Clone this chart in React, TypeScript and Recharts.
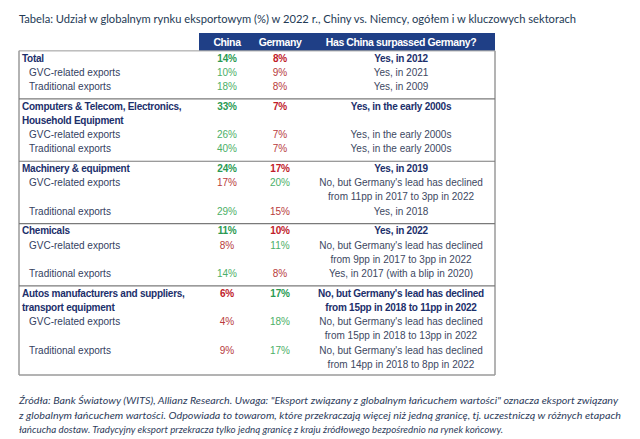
import { ScatterChart, Scatter, XAxis, YAxis, ReferenceLine, ReferenceArea } from 'recharts';

// table content, one entry per table row
const rowLabels: string[][] = [
  ['Total'],
  ['GVC-related exports'],
  ['Traditional exports'],
  ['Computers & Telecom, Electronics,', 'Household Equipment'],
  ['GVC-related exports'],
  ['Traditional exports'],
  ['Machinery & equipment'],
  ['GVC-related exports'],
  ['Traditional exports'],
  ['Chemicals'],
  ['GVC-related exports'],
  ['Traditional exports'],
  ['Autos manufacturers and suppliers,', 'transport equipment'],
  ['GVC-related exports'],
  ['Traditional exports'],
];
const rowGroup = [0, 0, 0, 1, 1, 1, 2, 2, 2, 3, 3, 3, 4, 4, 4];
const isHeading = [true, false, false, true, false, false, true, false, false, true, false, false, true, false, false];
const chinaShare = [14, 10, 18, 33, 26, 40, 24, 17, 29, 11, 8, 14, 6, 4, 9];
const germanyShare = [8, 9, 8, 7, 7, 7, 17, 20, 15, 10, 11, 8, 17, 18, 17];
const answers: string[][] = [
  ['Yes, in 2012'],
  ['Yes, in 2021'],
  ['Yes, in 2009'],
  ['Yes, in the early 2000s'],
  ['Yes, in the early 2000s'],
  ['Yes, in the early 2000s'],
  ['Yes, in 2019'],
  ["No, but Germany's lead has declined", 'from 11pp in 2017 to 3pp in 2022'],
  ['Yes, in 2018'],
  ['Yes, in 2022'],
  ["No, but Germany's lead has declined", 'from 9pp in 2017 to 3pp in 2022'],
  ['Yes, in 2017 (with a blip in 2020)'],
  ["No, but Germany's lead has declined", 'from 15pp in 2018 to 11pp in 2022'],
  ["No, but Germany's lead has declined", 'from 15pp in 2018 to 13pp in 2022'],
  ["No, but Germany's lead has declined", 'from 14pp in 2018 to 8pp in 2022'],
];
const headers = ['China', 'Germany', 'Has China surpassed Germany?'];

const title = 'Tabela: Udział w globalnym rynku eksportowym (%) w 2022 r., Chiny vs. Niemcy, ogółem i w kluczowych sektorach';
const footnote = [
  'Źródła: Bank Światowy (WITS), Allianz Research. Uwaga: "Eksport związany z globalnym łańcuchem wartości" oznacza eksport związany',
  'z globalnym łańcuchem wartości. Odpowiada to towarom, które przekraczają więcej niż jedną granicę, tj. uczestniczą w różnych etapach',
  'łańcucha dostaw. Tradycyjny eksport przekracza tylko jedną granicę z kraju źródłowego bezpośrednio na rynek końcowy.',
];

// layout (x in px from table's left border, y in "line" units)
const TABLE_W = 476;
const X_HEAD = 3;
const X_SUB = 10;
const X_CHINA = 208;
const X_GERMANY = 261;
const X_ANSWER = 382;
const X_BAR = 180;
const GROUP_GAP = 0.36;
const Y_TOP = -1.75;
const Y_BORDER = -0.5;
const Y_BOTTOM = 22.17;

const NAVY = '#1c2f6b';
const SUB = '#34415f';
const GREEN = ['#4caf68', '#2a9a52'];
const RED = ['#b83a3c', '#c0202a'];
const FONT = "'Liberation Sans', Arial, sans-serif";

// start line of each row
const rowLine: number[] = [];
let acc = 0;
rowLabels.forEach((l, i) => {
  rowLine.push(acc + rowGroup[i] * GROUP_GAP);
  acc += Math.max(l.length, answers[i].length);
});

const labelPts = rowLabels.flatMap((lines, i) =>
  lines.map((t, k) => ({ x: isHeading[i] ? X_HEAD : X_SUB, y: rowLine[i] + k, text: t, bold: isHeading[i], color: isHeading[i] ? NAVY : SUB, anchor: 'start' }))
);
const chinaPts = chinaShare.map((v, i) => ({
  x: X_CHINA, y: rowLine[i], text: `${v}%`, bold: isHeading[i],
  color: (v > germanyShare[i] ? GREEN : RED)[isHeading[i] ? 1 : 0], anchor: 'middle',
}));
const germanyPts = germanyShare.map((v, i) => ({
  x: X_GERMANY, y: rowLine[i], text: `${v}%`, bold: isHeading[i],
  color: (v > chinaShare[i] ? GREEN : RED)[isHeading[i] ? 1 : 0], anchor: 'middle',
}));
const answerPts = answers.flatMap((lines, i) =>
  lines.map((t, k) => ({ x: X_ANSWER, y: rowLine[i] + k, text: t, bold: isHeading[i], color: isHeading[i] ? NAVY : '#3d4862', anchor: 'middle' }))
);
const headerPts = headers.map((t, i) => ({ x: [X_CHINA, X_GERMANY, X_ANSWER][i], y: -1.12, text: t, bold: true, color: '#ffffff', anchor: 'middle', header: true }));

const separators = [1, 2, 3, 4].map((g) => rowLine[rowGroup.indexOf(g)] - 0.5);

const CellText = (props: any) => {
  const { cx, cy, payload } = props;
  return (
    <text
      x={cx}
      y={cy}
      dy="0.35em"
      textAnchor={payload.anchor}
      fill={payload.color}
      fontFamily={FONT}
      fontSize={payload.header ? 10.5 : 10}
      fontWeight={payload.bold ? 700 : 400}
      letterSpacing={payload.header ? -0.4 : payload.bold ? -0.25 : 0}
    >
      {payload.text}
    </text>
  );
};

const App = () => {
  return (
    <div style={{ position: 'absolute', left: 0, top: 0, width: 640, height: 439, background: '#fff' }}>
      <ScatterChart width={640} height={439} margin={{ top: 33, right: 145, bottom: 64, left: 19 }}>
        <XAxis type="number" dataKey="x" domain={[0, TABLE_W]} hide />
        <YAxis type="number" dataKey="y" domain={[Y_TOP, Y_BOTTOM]} reversed hide />
        <ReferenceArea x1={X_BAR} x2={TABLE_W} y1={Y_TOP} y2={Y_BORDER} fill="#1f3f86" fillOpacity={1} stroke="none" />
        <ReferenceLine y={Y_BORDER} stroke="#9a9a9a" strokeWidth={1} />
        <ReferenceLine y={Y_BOTTOM} stroke="#9a9a9a" strokeWidth={1.5} />
        <ReferenceLine segment={[{ x: 0, y: Y_BORDER }, { x: 0, y: Y_BOTTOM }]} stroke="#9a9a9a" strokeWidth={1.5} />
        <ReferenceLine segment={[{ x: TABLE_W, y: Y_BORDER }, { x: TABLE_W, y: Y_BOTTOM }]} stroke="#9a9a9a" strokeWidth={1.5} />
        {separators.map((s) => (
          <ReferenceLine key={s} y={s} stroke="#7a7a7a" strokeWidth={1.2} />
        ))}
        <Scatter data={headerPts} shape={CellText} isAnimationActive={false} />
        <Scatter data={labelPts} shape={CellText} isAnimationActive={false} />
        <Scatter data={chinaPts} shape={CellText} isAnimationActive={false} />
        <Scatter data={germanyPts} shape={CellText} isAnimationActive={false} />
        <Scatter data={answerPts} shape={CellText} isAnimationActive={false} />
      </ScatterChart>
      <svg width={640} height={439} style={{ position: 'absolute', left: 0, top: 0, pointerEvents: 'none' }}>
        <text x={19} y={19} dy="0.35em" fontFamily="Lato, 'Open Sans', sans-serif" fontSize={12} fill="#243a55" textLength={557} lengthAdjust="spacingAndGlyphs">
          {title}
        </text>
        {footnote.map((line, i) => (
          <text
            key={i}
            x={19}
            y={[400.5, 415, 429][i]}
            dy="0.35em"
            fontFamily="Lato, 'Open Sans', sans-serif"
            fontStyle="italic"
            fontSize={10}
            fill="#2e3d5c"
            textLength={[599, 602, 484][i]}
            lengthAdjust="spacingAndGlyphs"
          >
            {line}
          </text>
        ))}
      </svg>
    </div>
  );
};

export default App;
